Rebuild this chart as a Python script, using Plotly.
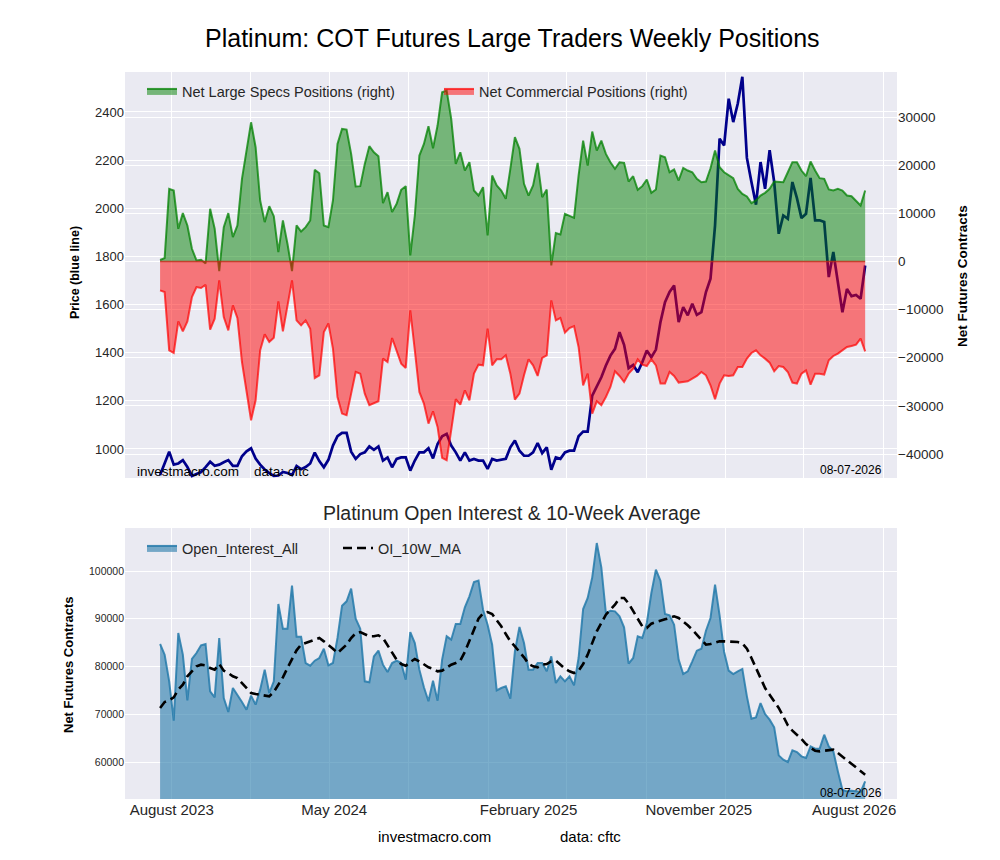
import pandas as pd
import plotly.graph_objects as go

# --- weekly report dates ---
dates = pd.date_range('2023-08-15', periods=156, freq='7D')

# --- top panel: price (left) and net positions (right) ---
price = [892, 940, 989, 935, 940, 954, 925, 888, 895, 904, 925, 947, 930, 935, 945, 954, 930, 930, 970, 990,
         1003, 960, 935, 915, 900, 888, 890, 905, 900, 892, 929, 916, 925, 940, 985, 950, 924, 955, 1014, 1053,
         1067, 1067, 989, 959, 979, 986, 1011, 997, 1011, 952, 965, 924, 959, 965, 965, 910, 952, 986, 986, 1003,
         961, 1021, 1053, 1063, 1014, 986, 952, 986, 952, 959, 952, 952, 917, 959, 952, 956, 959, 1007, 1035, 993,
         972, 972, 986, 1025, 983, 1007, 914, 965, 959, 986, 993, 993, 1053, 1072, 1072, 1222, 1263, 1298, 1347, 1388,
         1416, 1485, 1433, 1336, 1349, 1319, 1360, 1409, 1381, 1413, 1527, 1610, 1652, 1679, 1527, 1589, 1555, 1603, 1557, 1568,
         1652, 1707, 1929, 2289, 2261, 2455, 2358, 2435, 2546, 2209, 2109, 2015, 2192, 2081, 2241, 2109, 1894, 1970, 1956, 2109,
         2042, 1959, 1977, 2126, 1950, 1950, 1943, 1714, 1818, 1700, 1568, 1665, 1635, 1640, 1624, 1762]

net_specs = [300, 700, 15080, 14730, 6780, 10030, 7470, 2630, 200, 350, -400, 10930, 6780, -2000, 7120, 10030, 5050, 7470, 17150, 23380,
             28900, 23720, 12660, 8160, 11480, 9400, 1940, 8510, 3670, -2000, 7470, 6220, 7120, 8510, 19020, 18330, 7470, 7120, 12660, 24410,
             27530, 27390, 22340, 15560, 15630, 20260, 23930, 22680, 21850, 12100, 14390, 10240, 11960, 14870, 15630, 1245, 9540, 21990, 24410, 28080,
             23510, 28220, 35130, 35480, 29600, 20260, 22680, 18880, 20610, 14730, 13690, 15420, 5390, 17840, 15770, 14730, 13000, 19230, 25800, 23380,
             16110, 13690, 15770, 20470, 13350, 14940, -830, 5880, 5600, 9890, 9400, 9060, 17840, 25100, 19920, 26970, 23030, 25100, 22340, 20610,
             19230, 20610, 20470, 16600, 17700, 14870, 15630, 17010, 14250, 14940, 21990, 21650, 18530, 19090, 16810, 19430, 18880, 18530, 17150, 16460,
             16600, 19360, 23030, 19570, 18530, 17840, 17290, 15080, 14040, 13490, 12100, 12660, 13690, 14250, 15080, 16600, 16460, 16460, 18530, 20610,
             20610, 18880, 17700, 20750, 18880, 17290, 17150, 14940, 14730, 15080, 14730, 13690, 13550, 12660, 11620, 14730]

net_comm = [-6020, -6360, -18470, -19020, -12450, -14520, -12450, -7400, -5330, -5530, -4840, -14180, -11900, -3940, -11550, -14320, -9130, -11760, -20890, -27110,
            -32990, -28840, -18470, -15150, -16740, -15840, -8300, -14520, -9130, -3940, -12240, -13280, -12240, -13970, -24210, -23650, -14660, -12900, -18120, -28150,
            -31610, -31950, -27460, -22960, -23310, -27460, -29880, -29530, -29050, -20190, -20890, -15910, -18670, -21230, -22130, -10170, -18470, -27110, -29530, -33680,
            -31120, -34370, -40800, -41290, -35060, -28630, -29740, -26770, -28840, -23310, -21440, -21580, -13970, -21580, -20330, -20330, -19500, -23310, -28700, -27460,
            -23650, -20330, -21580, -23790, -20060, -19500, -8090, -12240, -11760, -14800, -13830, -13420, -17770, -25730, -23310, -31610, -29050, -29880, -28150, -26070,
            -22820, -23790, -25040, -23310, -22270, -20330, -21440, -21720, -20330, -21580, -25380, -25380, -22960, -23790, -25170, -25000, -24900, -24340, -23790, -22960,
            -23650, -25730, -28630, -25380, -23650, -23790, -23650, -21920, -21920, -20190, -19020, -18470, -19500, -20190, -21020, -22820, -21720, -21920, -22960, -25170,
            -25380, -23310, -22620, -25590, -23310, -23310, -23510, -20540, -19640, -19160, -18470, -17770, -17570, -17290, -16050, -18670]

# --- bottom panel: open interest and its 10-week average ---
open_interest = [84710, 82480, 76890, 68650, 87020, 82480, 72910, 81570, 82830, 84430, 84710, 74800, 73540, 85970, 73400, 70470, 75500, 74100, 72560, 70960,
                 73890, 72010, 75150, 79340, 74450, 76890, 93090, 87920, 87920, 96930, 86250, 86250, 80730, 80170, 81220, 81780, 83730, 80240, 80730, 85970,
                 92740, 93650, 96300, 90020, 87920, 76890, 76680, 82130, 83320, 80380, 78850, 80730, 81220, 80730, 77240, 87220, 84920, 79340, 75640, 72710,
                 77030, 72840, 81430, 86320, 85620, 88900, 88900, 92390, 94690, 97700, 97980, 91900, 88760, 84570, 75010, 75500, 75850, 73260, 83180, 88270,
                 84920, 79340, 79340, 80730, 80730, 78990, 82130, 76540, 77940, 76890, 77940, 76050, 81780, 92040, 94350, 98670, 105860, 100770, 91200, 91690,
                 91550, 90510, 88200, 80600, 81780, 86320, 85970, 89110, 95390, 100280, 97980, 90990, 90720, 88760, 81430, 78430, 78990, 81080, 83320, 83730,
                 87500, 90160, 97140, 90720, 83040, 79130, 78430, 78990, 79480, 73750, 69070, 69350, 72350, 70050, 68870, 67260, 61390, 60480, 60000, 62440,
                 62090, 61190, 60840, 63280, 62790, 62790, 65720, 63280, 62230, 58040, 54200, 53850, 53990, 53850, 53720, 55950]

oi_10w_ma = [71310, 72560, 72910, 73540, 75150, 76200, 77940, 78990, 80030, 80380, 80240, 79690, 79340, 80520, 79130, 78640, 77940, 77590, 76540, 75290,
             74450, 74240, 74100, 73960, 73750, 74660, 76200, 77730, 79690, 81430, 83390, 84570, 84920, 85130, 85620, 85970, 85270, 84570, 83730, 82830,
             83730, 84570, 85970, 86950, 87220, 86810, 86320, 86320, 86530, 85970, 84500, 82830, 81430, 80520, 80170, 80940, 81570, 81080, 80380, 79830,
             79550, 78990, 79130, 79830, 80380, 80730, 81220, 83040, 85480, 87850, 90020, 91130, 91410, 90990, 89810, 88410, 86810, 85270, 84220, 83180,
             81920, 80520, 80030, 79830, 80380, 80520, 81080, 81220, 80380, 79550, 78990, 78640, 79130, 80520, 82480, 84920, 87360, 89110, 90850, 91900,
             92950, 94350, 94350, 93200, 91550, 90020, 88410, 88060, 88970, 89320, 89670, 89880, 90160, 90510, 90160, 89460, 88620, 87710, 86670, 85410,
             84570, 84710, 85060, 85270, 85270, 85270, 85270, 85130, 84850, 83730, 81780, 79690, 77730, 75500, 74100, 72710, 71310, 69560, 67680, 66560,
             65720, 64820, 63770, 62930, 62370, 62230, 62370, 62510, 62580, 61880, 61120, 60280, 59580, 58880, 58180, 57350]

# --- x axis: grid dates and label dates ---
grid_dates = ['2023-09-01', '2024-01-01', '2024-05-01', '2024-09-01', '2025-01-01',
              '2025-05-01', '2025-09-01', '2026-01-01', '2026-05-01', '2026-09-01']
label_dates = ['2023-09-02', '2024-05-09', '2025-03-04', '2025-11-21', '2026-07-18']
label_text = ['August 2023', 'May 2024', 'February 2025', 'November 2025', 'August 2026']
x_range = ['2023-06-22', '2026-09-22']

FONT = 'Liberation Sans, Arial, sans-serif'
TXT = '#262626'
BG = '#EAEAF2'
W, H, OFF = 1000, 860, 8  # page body margin pushes the plot 8px right/down


def px(x):
    return (x - OFF) / W


def py(y):
    return 1 - (y - OFF) / H


fig = go.Figure()

fig.add_trace(go.Scatter(
    x=dates, y=price, xaxis='x', yaxis='y', mode='lines',
    line=dict(color='#00008B', width=2.7), showlegend=False, name='Price'
))
fig.add_trace(go.Scatter(
    x=dates, y=net_specs, xaxis='x', yaxis='y2', mode='lines', fill='tozeroy',
    fillcolor='rgba(0,128,0,0.5)', line=dict(color='rgba(0,128,0,0.75)', width=2),
    name='Net Large Specs Positions (right)', legend='legend'
))
fig.add_trace(go.Scatter(
    x=dates, y=net_comm, xaxis='x', yaxis='y2', mode='lines', fill='tozeroy',
    fillcolor='rgba(255,0,0,0.5)', line=dict(color='rgba(255,0,0,0.7)', width=2),
    name='Net Commercial Positions (right)', legend='legend'
))
fig.add_trace(go.Scatter(
    x=dates, y=open_interest, xaxis='x2', yaxis='y3', mode='lines', fill='tozeroy',
    fillcolor='rgba(36,122,170,0.6)', line=dict(color='rgba(36,122,170,0.85)', width=2),
    name='Open_Interest_All', legend='legend2'
))
fig.add_trace(go.Scatter(
    x=dates, y=oi_10w_ma, xaxis='x2', yaxis='y3', mode='lines',
    line=dict(color='black', width=2.6, dash='9px,5px'),
    name='OI_10W_MA', legend='legend2'
))

# baseline edge of the two filled areas, spanning only the data
fig.add_shape(type='line', xref='x', yref='y2', x0=dates[0], x1=dates[-1], y0=0, y1=0,
              line=dict(color='rgba(190,40,20,0.8)', width=1.5), layer='above')

xgrid = dict(showgrid=True, gridcolor='white', gridwidth=1.3, tickvals=grid_dates)
common_x = dict(type='date', range=x_range, domain=[px(125), px(897)], showgrid=False,
                zeroline=False, showline=False, ticks='', minor=xgrid)

fig.update_layout(
    width=W, height=H,
    margin=dict(l=0, r=0, t=0, b=0),
    paper_bgcolor='white', plot_bgcolor=BG,
    font=dict(family=FONT, color=TXT),
    xaxis=dict(common_x, anchor='y', showticklabels=False),
    yaxis=dict(domain=[py(478), py(72)], range=[879.5, 2566], tick0=1000, dtick=200,
               tickformat='d', showgrid=True, gridcolor='white', gridwidth=1.3,
               zeroline=False, ticks='', tickfont=dict(size=13, color=TXT)),
    yaxis2=dict(overlaying='y', side='right', anchor='x', range=[-44985, 39347],
                tick0=0, dtick=10000, tickformat='d', showgrid=True, gridcolor='white',
                gridwidth=1.3, zeroline=False, ticks='', tickfont=dict(size=13.5, color=TXT)),
    xaxis2=dict(common_x, anchor='y3', tickvals=label_dates, ticktext=label_text,
                tickfont=dict(size=15, color=TXT)),
    yaxis3=dict(domain=[py(799), py(528)], anchor='x2', range=[52251, 109005],
                tick0=0, dtick=10000, tickformat='d', showgrid=True, gridcolor='white',
                gridwidth=1.3, zeroline=False, ticks='', tickfont=dict(size=10.5, color=TXT)),
    legend=dict(orientation='h', x=px(142), y=py(75), xanchor='left', yanchor='top',
                bgcolor='rgba(0,0,0,0)', font=dict(size=14.5, color=TXT),
                entrywidth=252, entrywidthmode='pixels'),
    legend2=dict(orientation='h', x=px(142), y=py(532), xanchor='left', yanchor='top',
                 bgcolor='rgba(0,0,0,0)', font=dict(size=14.5, color=TXT),
                 entrywidth=151, entrywidthmode='pixels'),
)

notes = [
    dict(text='Platinum: COT Futures Large Traders Weekly Positions', x=512, y=38,
         font=dict(size=25, color='black')),
    dict(text='Platinum Open Interest & 10-Week Average', x=512, y=513,
         font=dict(size=19.5, color=TXT)),
    dict(text='<b>Price (blue line)</b>', x=75, y=273, textangle=-90,
         font=dict(size=12.5, color='black')),
    dict(text='<b>Net Futures Contracts</b>', x=962, y=276, textangle=-90,
         font=dict(size=13.5, color='black')),
    dict(text='<b>Net Futures Contracts</b>', x=68, y=665, textangle=-90,
         font=dict(size=13, color='black')),
    dict(text='investmacro.com', x=434, y=836, font=dict(size=15, color='black')),
    dict(text='data: cftc', x=590, y=836, font=dict(size=15, color='black')),
    dict(text='investmacro.com', x=135, y=471, xanchor='left',
         font=dict(size=13.5, color='black')),
    dict(text='data: cftc', x=252, y=471, xanchor='left',
         font=dict(size=13.5, color='black')),
    dict(text='08-07-2026', x=884, y=470, xanchor='right',
         font=dict(size=12, color='black')),
    dict(text='08-07-2026', x=884, y=793, xanchor='right',
         font=dict(size=12, color='black')),
]
for n in notes:
    n.setdefault('xanchor', 'center')
    n['x'] = px(n['x'])
    n['y'] = py(n['y'])
    fig.add_annotation(xref='paper', yref='paper', showarrow=False, yanchor='middle', **n)

fig.write_html("out.html")
